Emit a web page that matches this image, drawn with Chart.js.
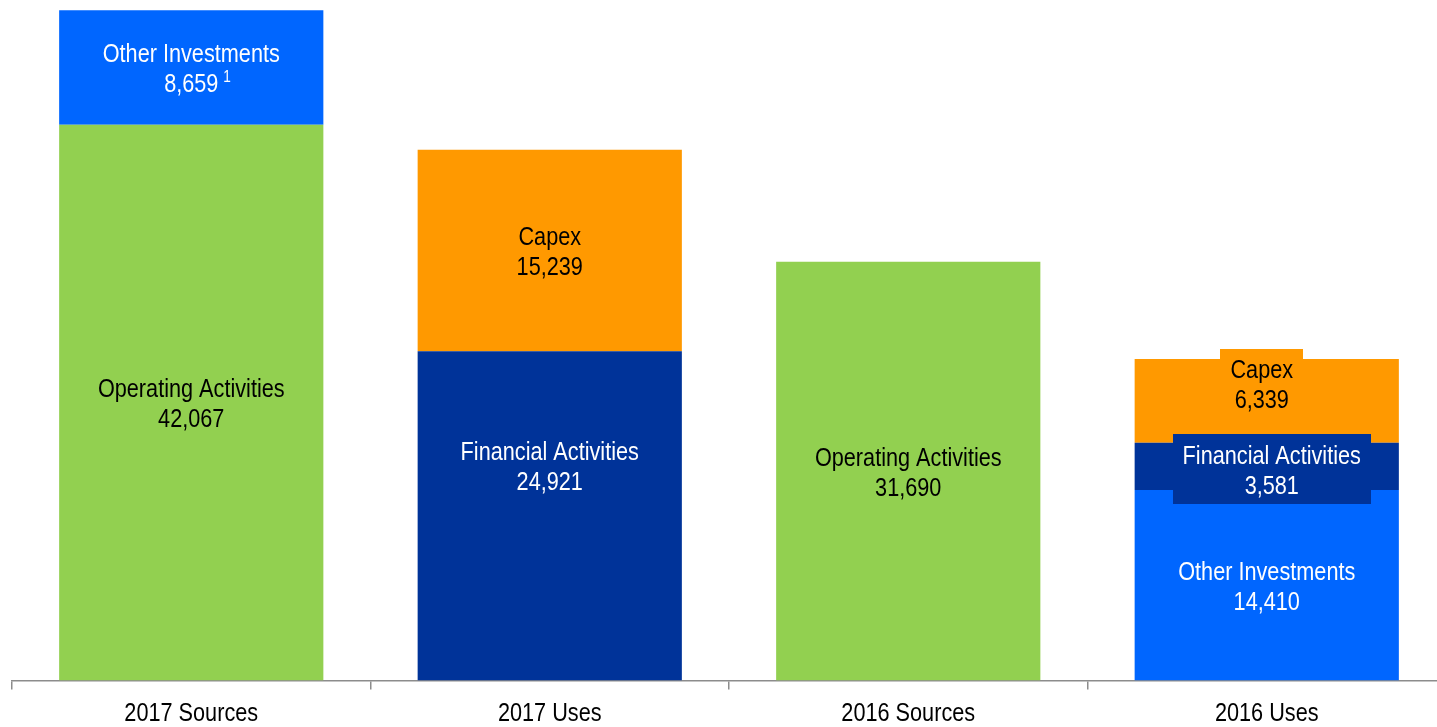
<!DOCTYPE html>
<html>
<head>
<meta charset="utf-8">
<script src="https://cdn.jsdelivr.net/npm/chart.js@4/dist/chart.umd.min.js"></script>
<style>
  html, body { margin: 0; padding: 0; background: #ffffff; overflow: hidden; }
  #wrap { position: relative; width: 1446px; height: 727px; }
</style>
</head>
<body>
<div id="wrap"><canvas id="c"></canvas></div>
<script>
// ---- Data ----
const categories = ['2017 Sources', '2017 Uses', '2016 Sources', '2016 Uses'];
const otherInvestmentsUses    = [null, null, null, 14410];
const operatingActivities     = [42067, null, 31690, null];
const financialActivities     = [null, 24921, null, 3581];
const otherInvestmentsSources = [8659, null, null, null];
const capex                   = [null, 15239, null, 6339];
const otherInvestmentsFootnote = ['1', null, null, null];

const FONT = '"Liberation Sans Narrow", "Arial Narrow", "Liberation Sans", Arial, sans-serif';
const SX = 0.85;      // horizontal condensing (narrow face look)
const FS = 25.5;      // font size
const TEXT_DY = 2.5;  // visual centering of text

// label placement tweaks (style, not data)
const labelTweaks = {
  'financial-1': { dy: -50 },
  'capex-3': { dy: -17, dx: -5, box: true },
  'financial-3': { dy: 3, dx: 5, box: true }
};

const datasets = [
  { key: 'otherUses', label: 'Other Investments', data: otherInvestmentsUses, backgroundColor: '#0066ff', textColor: '#ffffff' },
  { key: 'operating', label: 'Operating Activities', data: operatingActivities, backgroundColor: '#92d050', textColor: '#000000' },
  { key: 'financial', label: 'Financial Activities', data: financialActivities, backgroundColor: '#003399', textColor: '#ffffff' },
  { key: 'otherSources', label: 'Other Investments', data: otherInvestmentsSources, backgroundColor: '#0066ff', textColor: '#ffffff', footnotes: otherInvestmentsFootnote },
  { key: 'capex', label: 'Capex', data: capex, backgroundColor: '#ff9900', textColor: '#000000' }
].map(d => Object.assign(d, { borderWidth: 0, categoryPercentage: 1, barPercentage: 0.737 }));

const fmt = v => v.toLocaleString('en-US');

function narrowText(ctx, text, x, y, align) {
  ctx.save();
  ctx.translate(x, y);
  ctx.scale(SX, 1);
  ctx.textAlign = align || 'center';
  ctx.fillText(text, 0, 0);
  ctx.restore();
}

const segmentLabels = {
  id: 'segmentLabels',
  afterDatasetsDraw(chart) {
    const ctx = chart.ctx;
    const lh = 30;
    chart.data.datasets.forEach((ds, di) => {
      const meta = chart.getDatasetMeta(di);
      meta.data.forEach((bar, i) => {
        const v = ds.data[i];
        if (v == null) return;
        const tw = labelTweaks[ds.key + '-' + i] || {};
        const cx = bar.x + (tw.dx || 0);
        const cy = (bar.y + bar.base) / 2 + (tw.dy || 0);
        ctx.save();
        ctx.font = FS + 'px ' + FONT;
        ctx.textBaseline = 'middle';
        const l1 = ds.label, l2 = fmt(v);
        if (tw.box) {
          const w = Math.max(ctx.measureText(l1).width, ctx.measureText(l2).width) * SX + 20;
          const h = 70;
          ctx.fillStyle = ds.backgroundColor;
          ctx.fillRect(Math.round(cx - w / 2), Math.round(cy - h / 2), Math.round(w), h);
        }
        ctx.fillStyle = ds.textColor;
        narrowText(ctx, l1, cx, cy - lh / 2 + TEXT_DY);
        narrowText(ctx, l2, cx, cy + lh / 2 + TEXT_DY);
        if (ds.footnotes && ds.footnotes[i]) {
          const w2 = ctx.measureText(l2).width * SX;
          ctx.font = '16px ' + FONT;
          narrowText(ctx, ds.footnotes[i], cx + w2 / 2 + 5, cy + lh / 2 - 7 + TEXT_DY, 'left');
        }
        ctx.restore();
      });
    });
    // category labels
    const xs = chart.scales.x;
    ctx.save();
    ctx.font = FS + 'px ' + FONT;
    ctx.textBaseline = 'middle';
    ctx.fillStyle = '#000000';
    categories.forEach((c, i) => {
      narrowText(ctx, c, xs.getPixelForTick(i), 714);
    });
    ctx.restore();
  }
};

new Chart(document.getElementById('c'), {
  type: 'bar',
  data: { labels: categories, datasets },
  options: {
    responsive: true,
    maintainAspectRatio: false,
    animation: false,
    layout: { padding: { left: 12, right: 0, top: 0, bottom: 0 } },
    plugins: { legend: { display: false }, tooltip: { enabled: false } },
    scales: {
      x: {
        stacked: true,
        grid: { display: true, drawOnChartArea: false, drawTicks: true, tickLength: 9, color: '#8c8c8c', lineWidth: 1.5, offset: true },
        border: { display: true, color: '#8c8c8c', width: 1.5 },
        ticks: { color: 'rgba(0,0,0,0)', padding: 3.5, font: { family: FONT, size: FS } }
      },
      y: {
        stacked: true,
        display: false,
        min: 0,
        max: 51500
      }
    }
  },
  plugins: [segmentLabels]
});
</script>
</body>
</html>
